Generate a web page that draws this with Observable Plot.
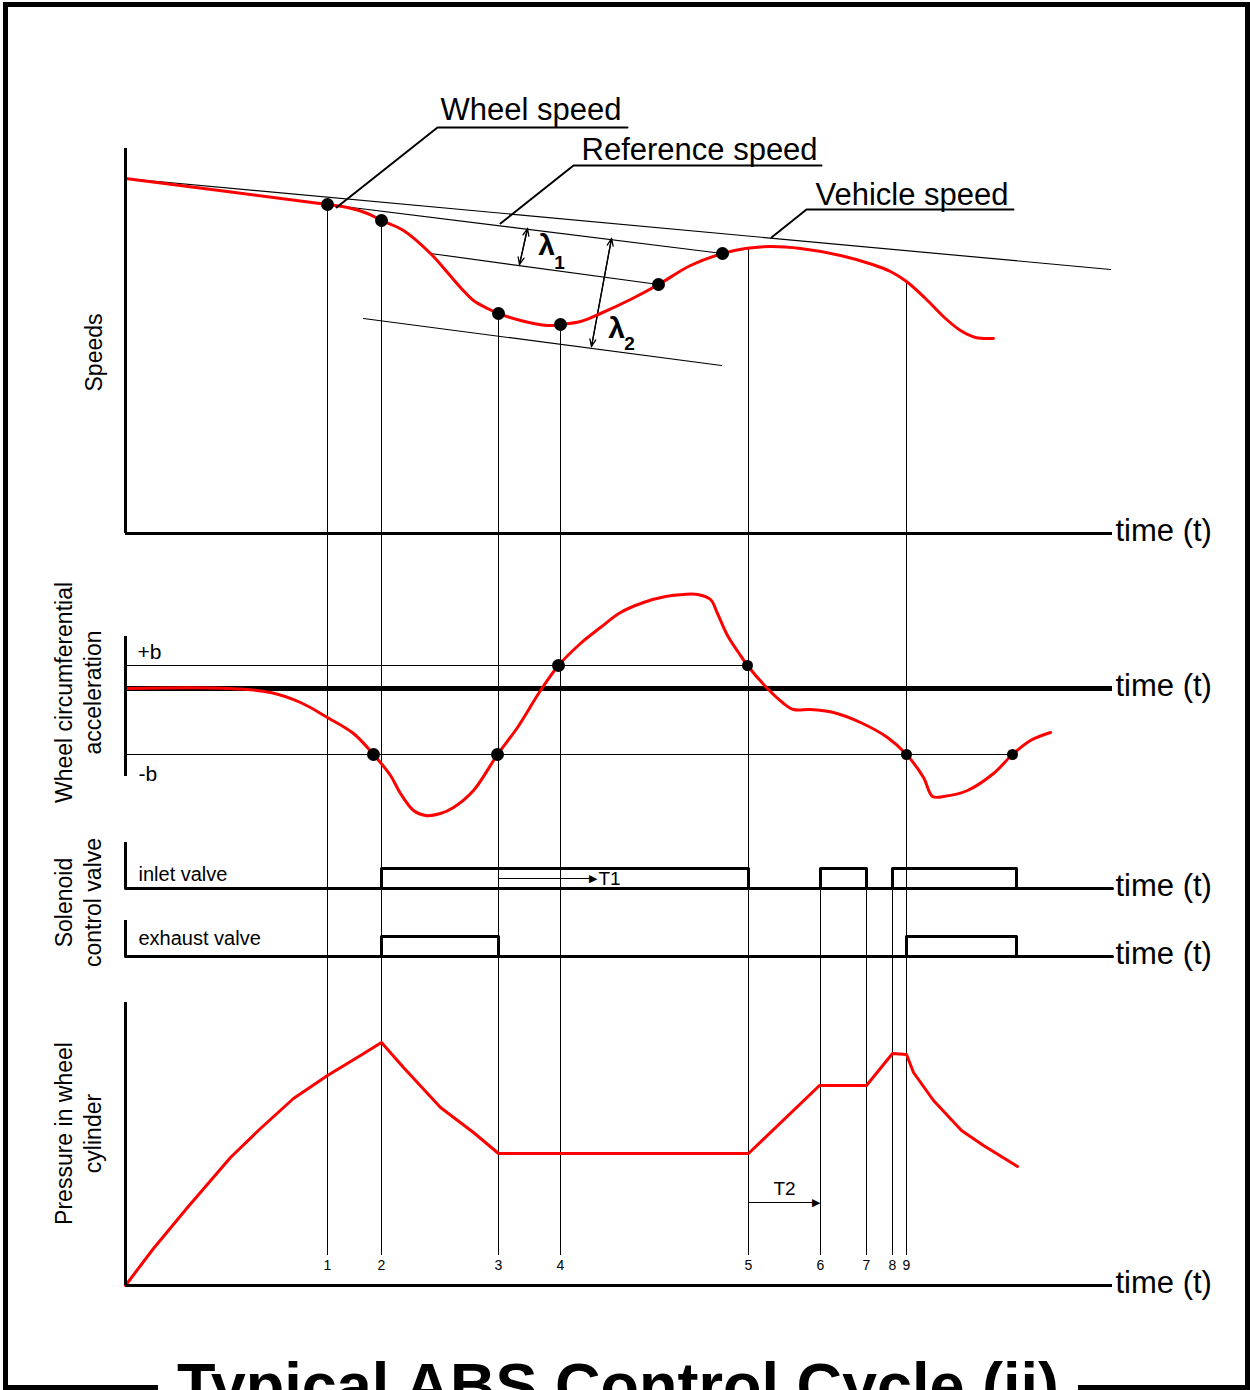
<!DOCTYPE html>
<html>
<head>
<meta charset="utf-8">
<script src="https://cdn.jsdelivr.net/npm/d3@7"></script>
<script src="https://cdn.jsdelivr.net/npm/@observablehq/plot@0.6"></script>
<style>
  body { margin: 0; background: #fff; font-family: "Liberation Sans", Arial, sans-serif; }
  #wrap { position: relative; width: 1250px; height: 1390px; overflow: hidden; background: #fff; }
  #frame { position: absolute; left: 3px; top: 2px; width: 1247px; height: 1388px; box-sizing: border-box; border: 5px solid #000; }
  #title { position: absolute; left: 158px; width: 920px; top: 1354px; text-align: center; background: #fff;
           font: bold 63px "Liberation Sans", Arial, sans-serif; line-height: 1; white-space: nowrap; color: #000; }
</style>
</head>
<body>
<div id="wrap">
  <div id="frame"></div>
  <div id="title">Typical ABS Control Cycle (ii)</div>
</div>
<script>
// ---------------- DATA ----------------
// time axis (arbitrary time units), event instants 1..9
const eventNames = ["1", "2", "3", "4", "5", "6", "7", "8", "9"];
const eventTimes = [202, 256, 373, 435, 623, 695, 741, 767, 781];

// Speeds panel (speed units)
const vehicleSpeed = [[0, 71], [985, 52.8]];
const referenceSpeed = [[202, 65.8], [597, 56]];
const lambda1Threshold = [[305, 56], [533, 49.8]];
const lambda2Threshold = [[238, 43], [596, 33.6]];
const wheelSpeed = [
  [0, 71], [202, 65.8], [222, 65.2], [242, 64], [256, 62.6], [278, 60.6], [305, 56],
  [322, 52.2], [335, 49.2], [348, 46.6], [362, 45], [373, 44], [395, 42.6], [422, 41.6],
  [435, 41.8], [455, 42.4], [475, 44], [505, 46.8], [533, 49.8], [565, 53.6], [597, 56],
  [620, 57], [645, 57.4], [675, 57], [715, 55.6], [747, 53.8], [765, 52.4], [781, 50.4],
  [800, 47], [820, 43], [835, 40.6], [850, 39.2], [868, 39]
];
const wheelSpeedMarkT = [202, 256, 373, 435, 533, 597];
const wheelSpeedMarkV = [65.8, 62.6, 44, 41.8, 49.8, 56];
const speedGuideEvents = ["1", "2", "3", "4", "5", "9"];
const speedGuideTop = [65.8, 62.6, 44, 41.8, 57, 50.2];
const speedLabels = ["Wheel speed", "Reference speed", "Vehicle speed"];
const speedLabelT = [315, 456, 690];
const speedLabelV = [84.6, 76.6, 67.6];
const leaderWheel = [[211, 65.2], [312, 81.2], [502, 81.2]];
const leaderReference = [[375, 62], [448, 73.6], [696, 73.6]];
const leaderVehicle = [[646, 59.2], [681, 64.8], [888, 64.8]];
const lambdaArrows = [
  {t1: 402, v1: 61, t2: 394, v2: 53.8},
  {t1: 486, v1: 59, t2: 466, v2: 37.4}
];
const lambdaSymbols = [{t: 421, v: 57.6, s: "λ"}, {t: 491, v: 41, s: "λ"}];
const lambdaSubscripts = [{t: 434, v: 54.2, s: "1"}, {t: 504, v: 38, s: "2"}];

// Wheel circumferential acceleration panel
const plusB = 2.3, minusB = -6.6;
const wheelAccel = [
  [0, 0], [105, 0], [145, -0.4], [175, -1.4], [202, -2.9], [228, -4.5], [248, -6.6],
  [265, -8.7], [275, -10.5], [288, -12.2], [300, -12.7], [315, -12.5], [328, -11.9],
  [348, -10.2], [372, -6.6], [392, -3.9], [415, -0.2], [433, 2.3], [455, 4.5], [475, 6.1],
  [495, 7.6], [518, 8.6], [540, 9.2], [558, 9.4], [572, 9.4], [585, 8.9], [592, 7.5],
  [602, 5.3], [613, 3.6], [622, 2.3], [642, 0], [657, -1.4], [668, -2.1], [685, -2.1],
  [708, -2.4], [735, -3.4], [762, -4.9], [781, -6.6], [798, -8.9], [807, -10.8],
  [818, -10.8], [842, -10.2], [868, -8.5], [887, -6.6], [905, -5.2], [925, -4.4]
];
const accelMarksBig = [[248, minusB], [372, minusB], [433, plusB]];
const accelMarksSmall = [[622, plusB], [781, minusB], [887, minusB]];
const accelGuideEvents = ["1", "2", "3", "4", "5", "9"];

// Solenoid valves (0 = off, 1 = on), change instants
const inletValve = [[0, 0], [256, 1], [623, 0], [695, 1], [741, 0], [767, 1], [891, 0], [987, 0]];
const exhaustValve = [[0, 0], [256, 1], [373, 0], [781, 1], [891, 0], [987, 0]];
const inletGuideFull = ["1", "2", "3", "4", "5", "9"];
const inletGuideFromPulse = ["6", "7", "8"];
const T1 = {t1: 373, t2: 472, s: 0.5};

// Pressure in wheel cylinder
const pressure = [
  [0, 0], [28, 14.8], [62, 31.2], [105, 51.2], [135, 62.8], [168, 74.8], [202, 84],
  [235, 92], [256, 97.2], [278, 87.2], [315, 71.2], [348, 61.2], [373, 52.8],
  [623, 52.8], [694, 80], [741, 80], [767, 92.8], [781, 92.4], [788, 85.2], [808, 74],
  [836, 62], [858, 56], [892, 47.6]
];
const T2 = {t1: 623, t2: 695, p: 33.2};

// ---------------- DRAWING ----------------
const wrap = document.getElementById("wrap");
const FONT = '"Liberation Sans", Arial, Helvetica, sans-serif';
const RED = "#ff0000";
const tOf = name => eventTimes[eventNames.indexOf(name)];
const T_END = 987;

function panel(top, height, yDomain, marks) {
  const svg = Plot.plot({
    width: 1250, height,
    marginLeft: 125, marginRight: 138, marginTop: 0, marginBottom: 0,
    x: {domain: [0, T_END], axis: null},
    y: {domain: yDomain, axis: null},
    style: {background: "none", overflow: "visible", fontFamily: FONT, color: "#000"},
    marks
  });
  svg.style.position = "absolute";
  svg.style.left = "0px";
  svg.style.top = top + "px";
  wrap.appendChild(svg);
}
const timeLabel = (yv) => Plot.text(["time (t)"], {x: T_END, y: yv, text: d => d, textAnchor: "start", dx: 3, dy: -2, fontSize: 31});
const yTitle = (txt, yv, dx) => Plot.text([txt], {frameAnchor: "left", y: yv, text: d => d, rotate: -90, dx, textAnchor: "middle", lineAnchor: "middle", fontSize: 23, lineHeight: 1.27});

// Panel A: speeds
const SPEED_DOM = [-5.4, 106.6];
panel(0, 560, SPEED_DOM, [
  Plot.ruleX(speedGuideEvents, {x: d => tOf(d), y1: (d, i) => speedGuideTop[i], y2: SPEED_DOM[0], strokeWidth: 1}),
  Plot.line(vehicleSpeed, {x: d => d[0], y: d => d[1], strokeWidth: 1.2}),
  Plot.line(referenceSpeed, {x: d => d[0], y: d => d[1], strokeWidth: 1.2}),
  Plot.line(lambda1Threshold, {x: d => d[0], y: d => d[1], strokeWidth: 1.2}),
  Plot.line(lambda2Threshold, {x: d => d[0], y: d => d[1], strokeWidth: 1.2}),
  Plot.arrow(lambdaArrows, {x1: "t1", y1: "v1", x2: "t2", y2: "v2", headLength: 9, headAngle: 45, strokeWidth: 1.3}),
  Plot.arrow(lambdaArrows, {x1: "t2", y1: "v2", x2: "t1", y2: "v1", headLength: 9, headAngle: 45, strokeWidth: 1.3}),
  Plot.line(wheelSpeed, {x: d => d[0], y: d => d[1], stroke: RED, strokeWidth: 3, curve: "catmull-rom"}),
  Plot.dot(wheelSpeedMarkT, {x: d => d, y: (d, i) => wheelSpeedMarkV[i], r: 6.5, fill: "#000", stroke: null}),
  Plot.line(leaderWheel, {x: d => d[0], y: d => d[1], strokeWidth: 2}),
  Plot.line(leaderReference, {x: d => d[0], y: d => d[1], strokeWidth: 2}),
  Plot.line(leaderVehicle, {x: d => d[0], y: d => d[1], strokeWidth: 2}),
  Plot.text(speedLabels, {x: (d, i) => speedLabelT[i], y: (d, i) => speedLabelV[i], text: d => d, textAnchor: "start", fontSize: 31}),
  Plot.text(lambdaSymbols, {x: "t", y: "v", text: "s", fontSize: 30, fontWeight: "bold"}),
  Plot.text(lambdaSubscripts, {x: "t", y: "v", text: "s", fontSize: 19, fontWeight: "bold"}),
  Plot.ruleX([0], {y1: 0, y2: 77, strokeWidth: 3}),
  Plot.ruleY([0], {x1: 0, x2: T_END, strokeWidth: 3}),
  timeLabel(0),
  yTitle("Speeds", 36.2, -33)
]);

// Panel B: wheel acceleration
const ACC_DOM = [-14.2, 12.8];
panel(560, 270, ACC_DOM, [
  Plot.ruleX(accelGuideEvents, {x: d => tOf(d), strokeWidth: 1}),
  Plot.ruleY([plusB], {x1: 0, x2: tOf("5"), strokeWidth: 1}),
  Plot.ruleY([minusB], {x1: 0, x2: 887, strokeWidth: 1}),
  Plot.ruleY([0], {x1: 0, x2: T_END, strokeWidth: 5}),
  Plot.line(wheelAccel, {x: d => d[0], y: d => d[1], stroke: RED, strokeWidth: 3, curve: "catmull-rom"}),
  Plot.dot(accelMarksBig, {x: d => d[0], y: d => d[1], r: 6.5, fill: "#000", stroke: null}),
  Plot.dot(accelMarksSmall, {x: d => d[0], y: d => d[1], r: 5.5, fill: "#000", stroke: null}),
  Plot.ruleX([0], {y1: -8.8, y2: 5.2, strokeWidth: 3}),
  Plot.text(["+b"], {x: 12, y: 3.6, text: d => d, textAnchor: "start", fontSize: 21}),
  Plot.text(["-b"], {x: 13, y: -8.6, text: d => d, textAnchor: "start", fontSize: 21}),
  timeLabel(0),
  yTitle("Wheel circumferential\nacceleration", -0.4, -48)
]);

// Panel C: inlet valve
const IN_DOM = [-0.85, 2.9];
panel(830, 75, IN_DOM, [
  Plot.ruleX(inletGuideFull, {x: d => tOf(d), strokeWidth: 1}),
  Plot.ruleX(inletGuideFromPulse, {x: d => tOf(d), y1: 1, y2: IN_DOM[0], strokeWidth: 1}),
  Plot.ruleY([0], {x1: 0, x2: T_END, strokeWidth: 3}),
  Plot.line(inletValve, {x: d => d[0], y: d => d[1], curve: "step-after", strokeWidth: 3}),
  Plot.ruleX([0], {y1: 0, y2: 2.3, strokeWidth: 3}),
  Plot.line([[T1.t1, T1.s], [T1.t2 - 6, T1.s]], {x: d => d[0], y: d => d[1], strokeWidth: 1.2}),
  Plot.text(["▶"], {x: T1.t2, y: T1.s, text: d => d, textAnchor: "end", fontSize: 11, fontFamily: "DejaVu Sans"}),
  Plot.text(["T1"], {x: T1.t2 + 1, y: T1.s, text: d => d, textAnchor: "start", fontSize: 19}),
  Plot.text(["inlet valve"], {x: 13, y: 0.7, text: d => d, textAnchor: "start", fontSize: 20}),
  timeLabel(0),
  yTitle("Solenoid\ncontrol valve", -0.7, -48)
]);

// Panel D: exhaust valve
const EX_DOM = [-0.95, 2.55];
panel(905, 70, EX_DOM, [
  Plot.ruleX(eventNames, {x: d => tOf(d), strokeWidth: 1}),
  Plot.ruleY([0], {x1: 0, x2: T_END, strokeWidth: 3}),
  Plot.line(exhaustValve, {x: d => d[0], y: d => d[1], curve: "step-after", strokeWidth: 3}),
  Plot.ruleX([0], {y1: 0, y2: 1.8, strokeWidth: 3}),
  Plot.text(["exhaust valve"], {x: 13, y: 0.9, text: d => d, textAnchor: "start", fontSize: 20}),
  timeLabel(0)
]);

// Panel E: pressure
const PR_DOM = [-6, 124];
panel(975, 325, PR_DOM, [
  Plot.ruleX(eventNames, {x: d => tOf(d), y1: PR_DOM[1], y2: 12, strokeWidth: 1}),
  Plot.text(eventNames, {x: d => tOf(d), y: 8, text: d => d, fontSize: 14}),
  Plot.line(pressure, {x: d => d[0], y: d => d[1], stroke: RED, strokeWidth: 3}),
  Plot.line([[T2.t1, T2.p], [T2.t2 - 6, T2.p]], {x: d => d[0], y: d => d[1], strokeWidth: 1.2}),
  Plot.text(["▶"], {x: T2.t2, y: T2.p, text: d => d, textAnchor: "end", fontSize: 11, fontFamily: "DejaVu Sans"}),
  Plot.text(["T2"], {x: (T2.t1 + T2.t2) / 2, y: 38.8, text: d => d, fontSize: 19}),
  Plot.ruleX([0], {y1: 0, y2: 113.2, strokeWidth: 3}),
  Plot.ruleY([0], {x1: 0, x2: T_END, strokeWidth: 3}),
  timeLabel(0),
  yTitle("Pressure in wheel\ncylinder", 60.8, -48)
]);
</script>
</body>
</html>
